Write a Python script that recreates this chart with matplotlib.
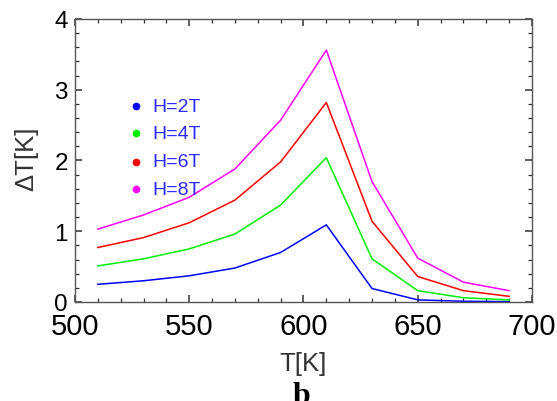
import numpy as np
import matplotlib
matplotlib.use("Agg")
import matplotlib.pyplot as plt
from matplotlib.ticker import MultipleLocator

plt.rcParams['font.family'] = ['Liberation Sans', 'DejaVu Sans']

temps = [510, 530, 550, 570, 590, 610, 630, 650, 670, 690]
dt_2T = [0.25, 0.30, 0.37, 0.48, 0.70, 1.09, 0.19, 0.03, 0.01, 0.005]
dt_4T = [0.51, 0.61, 0.75, 0.96, 1.37, 2.04, 0.61, 0.16, 0.06, 0.03]
dt_6T = [0.77, 0.91, 1.12, 1.44, 1.98, 2.82, 1.14, 0.36, 0.16, 0.08]
dt_8T = [1.03, 1.23, 1.48, 1.88, 2.57, 3.56, 1.70, 0.62, 0.28, 0.16]
labels = ['H=2T', 'H=4T', 'H=6T', 'H=8T']
colors = ['#0000ff', '#00ee00', '#ff0000', '#ff00ff']

fig = plt.figure(figsize=(5.57, 4.02), dpi=100)
ax = fig.add_axes([0.1346, 0.2463, 0.8205, 0.704])

for ys, c in zip([dt_2T, dt_4T, dt_6T, dt_8T], colors):
    ax.plot(temps, ys, color=c, lw=1.1)

ax.set_xlim(500, 700)
ax.set_ylim(0, 4)
ax.xaxis.set_major_locator(MultipleLocator(50))
ax.xaxis.set_minor_locator(MultipleLocator(10))
ax.yaxis.set_major_locator(MultipleLocator(1))
ax.yaxis.set_minor_locator(MultipleLocator(0.2))
ax.tick_params(which='both', direction='in', top=True, right=True, color='#333333')
ax.tick_params(which='major', length=5, width=1.1)
ax.tick_params(which='minor', length=3, width=0.9)
ax.tick_params(axis='x', which='major', labelsize=21, pad=7)
ax.tick_params(axis='y', which='major', labelsize=17.5, pad=5)
for s in ax.spines.values():
    s.set_color('#555555')
    s.set_linewidth(1)

ax.set_xlabel('T[K]', fontsize=18.5, color='#333333', va='center')
ax.xaxis.set_label_coords(0.5, -0.217)
ax.set_ylabel('ΔT[K]', fontsize=18.5, color='#333333', va='center')
ax.yaxis.set_label_coords(-0.106, 0.509)

# legend drawn as dots and text
leg_x_dot = 0.133
leg_y = [0.692, 0.597, 0.495, 0.399]
for lab, c, yy in zip(labels, colors, leg_y):
    ax.plot([leg_x_dot], [yy], 'o', color=c, ms=4.5, transform=ax.transAxes, clip_on=False)
    ax.text(0.17, yy, lab, color='#2a2aff', fontsize=14,
            transform=ax.transAxes, va='center', ha='left')

fig.text(0.541, -0.006, 'b', fontsize=23, fontweight='bold',
         family=['Liberation Serif', 'DejaVu Serif'], ha='center', va='baseline')

fig.savefig('out.png', dpi=100)
